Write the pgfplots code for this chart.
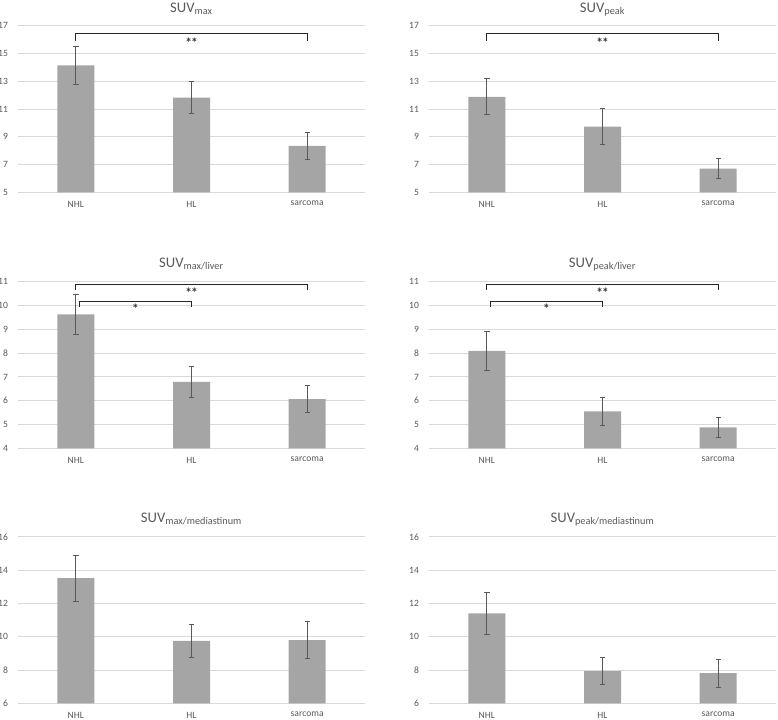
\documentclass[border=0pt]{standalone}
\usepackage{fontspec}
\setmainfont{Carlito}
\usepackage{pgfplots}
\pgfplotsset{compat=1.18}
\definecolor{barc}{HTML}{A5A5A5}
\definecolor{gridc}{HTML}{D9D9D9}
\definecolor{txtc}{HTML}{595959}
\definecolor{errc}{HTML}{595959}
\pgfplotsset{panel/.style={
  scale only axis, width=260.25pt, height=124.8pt,
  xmin=-0.5, xmax=2.5, xtick={0,1,2}, xticklabels={NHL,HL,sarcoma},
  axis line style={draw=none}, major tick length=0pt,
  ymajorgrids, grid style={gridc, line width=0.75pt},
  tick label style={font=\fontsize{7.2}{8}\selectfont, text=txtc},
  /pgf/number format/assume math mode=true,
  yticklabel style={xshift=-4pt},
  xticklabel style={yshift=-3pt},
  title style={font=\fontsize{11}{13}\selectfont, text=txtc, at={(0.5,1)}, anchor=base, yshift=5pt},
  clip=false, anchor=south west,
},
bars/.style={ybar, bar width=27.75pt, bar shift=0pt, fill=barc, draw=none,
  error bars/.cd, y dir=both, y explicit,
  error bar style={errc, line width=0.7pt},
  error mark options={rotate=90, errc, mark size=2pt, line width=0.7pt}},
}
\tikzset{brk/.style={black!85, line width=0.85pt},
star/.style={font=\fontsize{10}{12}\selectfont\bfseries, black!80, yshift=-1.8pt}}
\begin{document}
\begin{tikzpicture}
\path[use as bounding box] (0,0) rectangle (583.5pt,-540pt);
% Panel 1
\begin{axis}[panel, at={(13.5pt,-144.2pt)}, ymin=5, ymax=17, ytick={5,7,...,17},
  title={SUV\textsubscript{max}}, title style={yshift=-1pt}]
\addplot[bars] coordinates {(0,14.15) +- (0,1.36) (1,11.83) +- (0,1.15) (2,8.34) +- (0,1.0)};
\draw[brk] (axis cs:0,15.94) -- (axis cs:0,16.42) -- (axis cs:2,16.42) -- (axis cs:2,15.94);
\node[star] at (axis cs:1,15.94) {*\kern-0.6pt*};
\end{axis}
% Panel 2
\begin{axis}[panel, at={(321.75pt,-144.2pt)}, ymin=5, ymax=17, ytick={5,7,...,17},
  title={SUV\textsubscript{peak}}, title style={yshift=-1pt}]
\addplot[bars] coordinates {(0,11.88) +- (0,1.3) (1,9.74) +- (0,1.28) (2,6.71) +- (0,0.73)};
\draw[brk] (axis cs:0,15.94) -- (axis cs:0,16.42) -- (axis cs:2,16.42) -- (axis cs:2,15.94);
\node[star] at (axis cs:1,15.94) {*\kern-0.6pt*};
\end{axis}
% Panel 3
\begin{axis}[panel, at={(13.5pt,-336.2pt)}, ymin=4, ymax=11, ytick={4,5,...,11},
  title={SUV\textsubscript{max/liver}}]
\addplot[bars] coordinates {(0,9.63) +- (0,0.86) (1,6.79) +- (0,0.65) (2,6.07) +- (0,0.56)};
\draw[brk] (axis cs:0,10.65) -- (axis cs:0,10.9) -- (axis cs:2,10.9) -- (axis cs:2,10.65);
\node[star] at (axis cs:1,10.65) {*\kern-0.6pt*};
\draw[brk] (axis cs:0.03,9.95) -- (axis cs:0.03,10.19) -- (axis cs:1,10.19) -- (axis cs:1,9.95);
\node[star] at (axis cs:0.515,9.95) {*};
\end{axis}
% Panel 4
\begin{axis}[panel, at={(321.75pt,-336.2pt)}, ymin=4, ymax=11, ytick={4,5,...,11},
  title={SUV\textsubscript{peak/liver}}]
\addplot[bars] coordinates {(0,8.10) +- (0,0.83) (1,5.55) +- (0,0.57) (2,4.88) +- (0,0.43)};
\draw[brk] (axis cs:0,10.65) -- (axis cs:0,10.9) -- (axis cs:2,10.9) -- (axis cs:2,10.65);
\node[star] at (axis cs:1,10.65) {*\kern-0.6pt*};
\draw[brk] (axis cs:0.03,9.95) -- (axis cs:0.03,10.19) -- (axis cs:1,10.19) -- (axis cs:1,9.95);
\node[star] at (axis cs:0.515,9.95) {*};
\end{axis}
% Panel 5
\begin{axis}[panel, at={(13.5pt,-527.5pt)}, ymin=6, ymax=16, ytick={6,8,...,16},
  title={SUV\textsubscript{max/mediastinum}}]
\addplot[bars] coordinates {(0,13.53) +- (0,1.38) (1,9.76) +- (0,0.98) (2,9.80) +- (0,1.11)};
\end{axis}
% Panel 6
\begin{axis}[panel, at={(321.75pt,-527.5pt)}, ymin=6, ymax=16, ytick={6,8,...,16},
  title={SUV\textsubscript{peak/mediastinum}}]
\addplot[bars] coordinates {(0,11.40) +- (0,1.26) (1,7.93) +- (0,0.82) (2,7.81) +- (0,0.83)};
\end{axis}
\end{tikzpicture}
\end{document}
